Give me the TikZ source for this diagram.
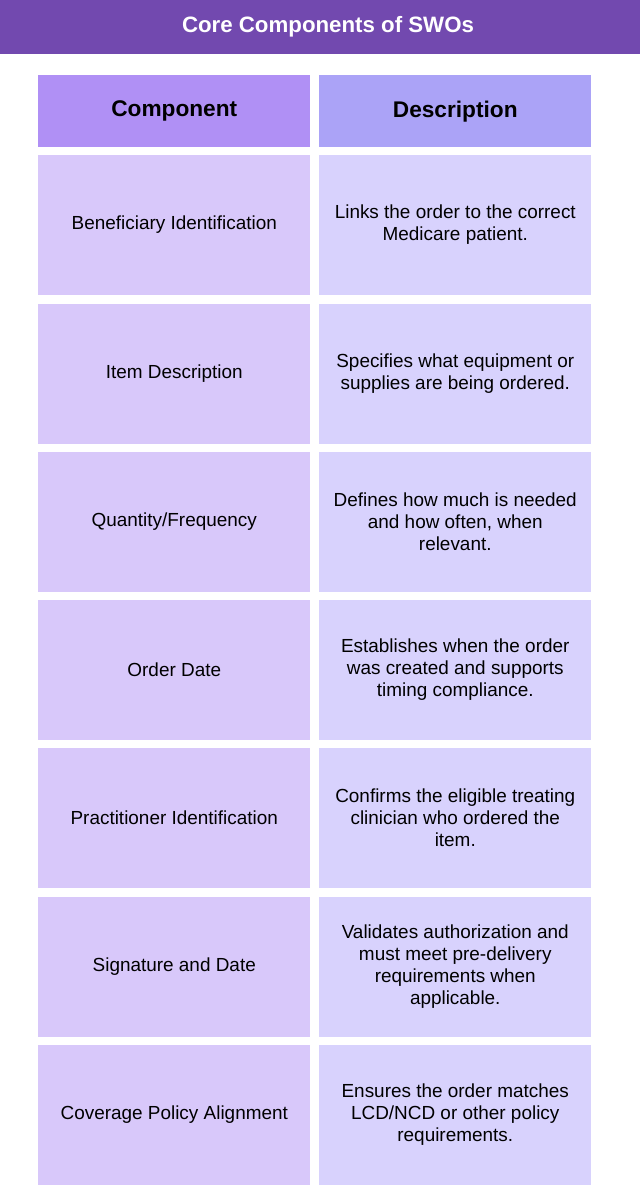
\documentclass[tikz,border=0pt]{standalone}
\usepackage{fontspec}
\setmainfont{Liberation Sans}
\definecolor{titlec}{HTML}{7249AF}
\definecolor{hl}{HTML}{B090F5}
\definecolor{hr}{HTML}{ABA3F7}
\definecolor{rl}{HTML}{D8C8FA}
\definecolor{rr}{HTML}{D8D2FD}
\begin{document}
\begin{tikzpicture}[x=0.75pt,y=-0.75pt,
  cell/.style={minimum width=204pt,minimum height=104.5pt,inner sep=0pt,anchor=north west,align=center,font=\fontsize{14.2}{16.5}\selectfont},
  hcell/.style={cell,minimum height=54pt,font=\bfseries\fontsize{17}{20}\selectfont}]
\useasboundingbox (0,0) rectangle (640,1200);
\fill[titlec] (0,0) rectangle (640,54);
\node[text=white,font=\bfseries\fontsize{16.7}{18}\selectfont] (title) at (328,27) {Core Components of SWOs};
\node[hcell,fill=hl] (h1) at (38,75) {Component};
\node[hcell,fill=hr] (h2) at (319,75) {Description};
\foreach \y/\a/\b [count=\i] in {
155/{Beneficiary Identification}/{Links the order to the correct\\Medicare patient.},
304/{Item Description}/{Specifies what equipment or\\supplies are being ordered.},
452/{Quantity/Frequency}/{Defines how much is needed\\and how often, when\\relevant.},
600/{Order Date}/{Establishes when the order\\was created and supports\\timing compliance.},
748/{Practitioner Identification}/{Confirms the eligible treating\\clinician who ordered the\\item.},
897/{Signature and Date}/{Validates authorization and\\must meet pre-delivery\\requirements when\\applicable.},
1045/{Coverage Policy Alignment}/{Ensures the order matches\\LCD/NCD or other policy\\requirements.}}{
  \node[cell,fill=rl] (l\i) at (38,\y) {\a};
  \node[cell,fill=rr] (r\i) at (319,\y) {\b};
}
\end{tikzpicture}
\end{document}
